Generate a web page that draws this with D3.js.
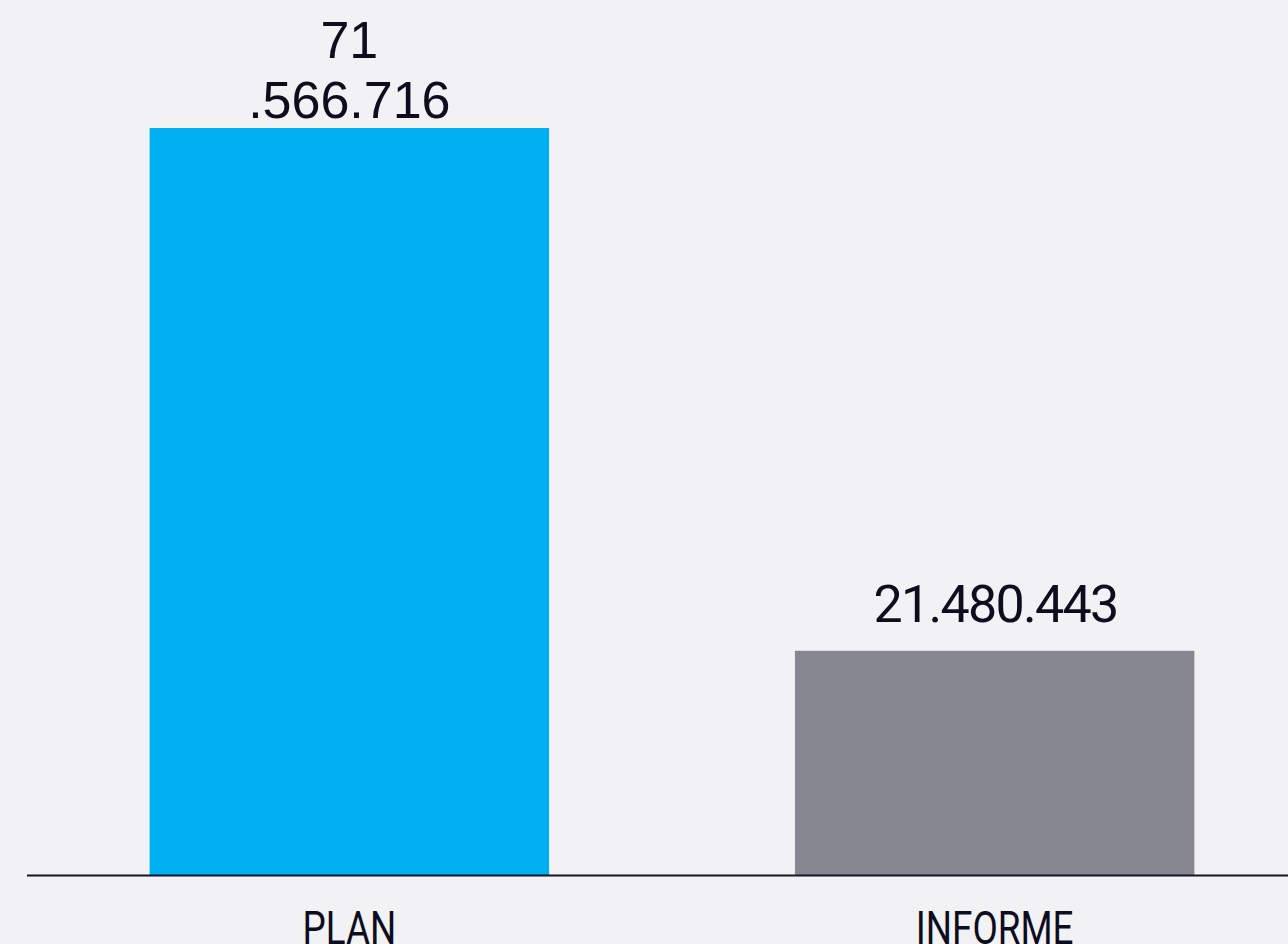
<!DOCTYPE html>
<html>
<head>
<meta charset="utf-8">
<script src="https://cdn.jsdelivr.net/npm/d3@7/dist/d3.min.js"></script>
<style>
  html, body { margin: 0; padding: 0; background: #f2f2f4; }
  svg { display: block; }
</style>
</head>
<body>
<div id="chart"></div>
<script>
// data
var categories = ["PLAN", "INFORME"];
var values = [71566716, 21480443];
var barColors = ["#00b0f0", "#878792"];
// where the value label wraps in the original (char index, or null)
var labelBreaks = [2, null];
var labelFonts = ["'Liberation Sans', Arial, sans-serif", "Roboto, sans-serif"];
var labelSpacing = [0, -1.7];

var width = 1288, height = 944;
var baseY = 875, topY = 128;

var fmt = d3.formatLocale({decimal: ",", thousands: ".", grouping: [3], currency: ["", ""]}).format(",d");

var svg = d3.select("#chart").append("svg")
  .attr("width", width)
  .attr("height", height)
  .style("background", "#f2f2f4");

var x = d3.scaleBand()
  .domain(categories)
  .range([27, 1317])
  .paddingInner(0.381)
  .paddingOuter(0.19);

var y = d3.scaleLinear()
  .domain([0, d3.max(values)])
  .range([baseY, topY]);

var data = categories.map(function(c, i) {
  return {cat: c, value: values[i], color: barColors[i], brk: labelBreaks[i], font: labelFonts[i], ls: labelSpacing[i]};
});

svg.selectAll("rect.bar")
  .data(data)
  .enter().append("rect")
  .attr("class", "bar")
  .attr("x", function(d) { return x(d.cat); })
  .attr("y", function(d) { return y(d.value); })
  .attr("width", x.bandwidth())
  .attr("height", function(d) { return baseY - y(d.value); })
  .attr("fill", function(d) { return d.color; });

// baseline
svg.append("line")
  .attr("x1", 27).attr("x2", width)
  .attr("y1", baseY + 0.5).attr("y2", baseY + 0.5)
  .attr("stroke", "#14142a")
  .attr("stroke-width", 2);

// value labels
var labels = svg.selectAll("text.value")
  .data(data)
  .enter().append("text")
  .attr("class", "value")
  .attr("text-anchor", "middle")
  .attr("fill", "#0d0d1f")
  .style("font-family", function(d) { return d.font; })
  .style("letter-spacing", function(d) { return d.ls + "px"; })
  .style("font-size", "52px");

labels.each(function(d) {
  var s = fmt(d.value);
  var lines = d.brk == null ? [s] : [s.slice(0, d.brk), s.slice(d.brk)];
  var t = d3.select(this);
  var cx = x(d.cat) + x.bandwidth() / 2 - d.ls / 2;
  var gap = d.brk == null ? 29 : 10;
  var lastY = y(d.value) - gap;
  lines.forEach(function(l, j) {
    t.append("tspan")
      .attr("x", cx)
      .attr("y", lastY - (lines.length - 1 - j) * 60)
      .text(l);
  });
});

// category labels (condensed look)
svg.selectAll("text.cat")
  .data(data)
  .enter().append("text")
  .attr("class", "cat")
  .attr("text-anchor", "middle")
  .attr("fill", "#0d0d1f")
  .style("font-family", "Roboto, sans-serif")
  .style("font-size", "46px")
  .attr("transform", function(d) {
    return "translate(" + (x(d.cat) + x.bandwidth() / 2) + ",944) scale(0.8,1)";
  })
  .text(function(d) { return d.cat; });
</script>
</body>
</html>
